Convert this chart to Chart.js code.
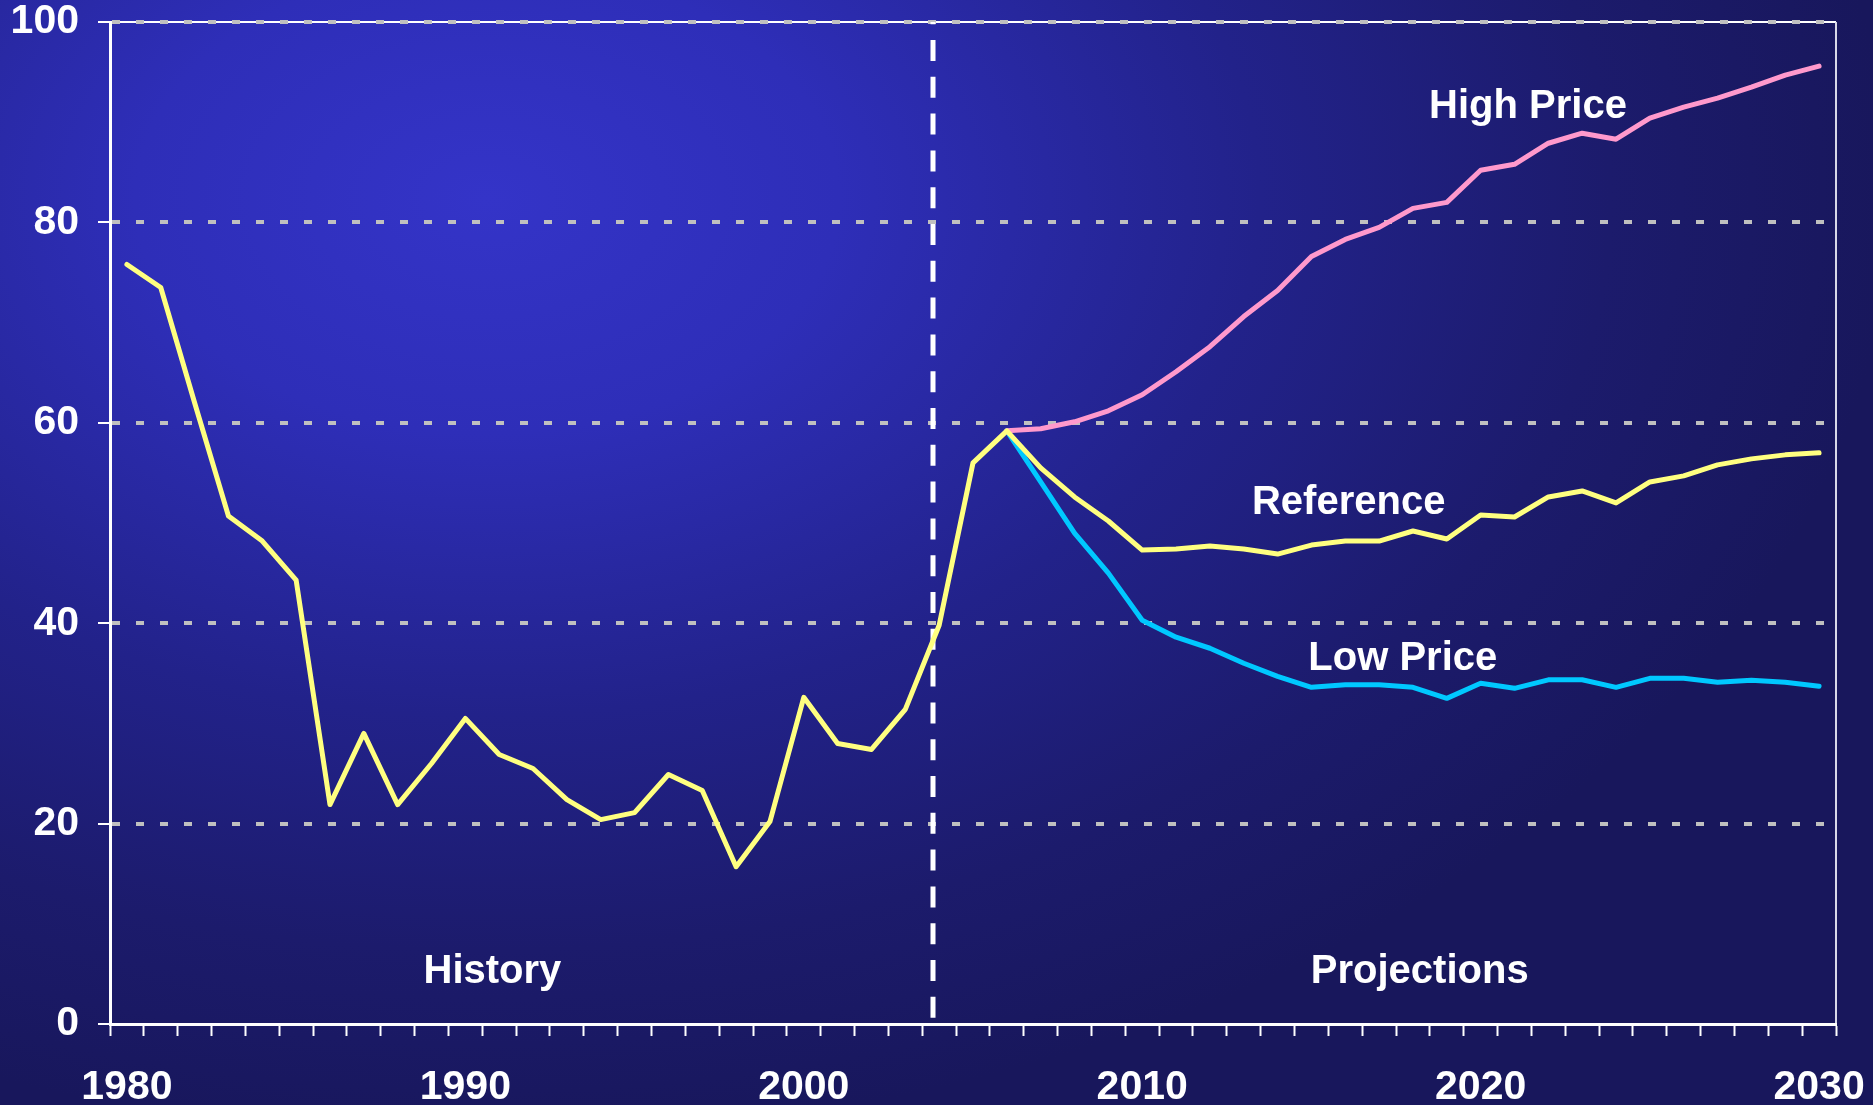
<!DOCTYPE html>
<html>
<head>
<meta charset="utf-8">
<script src="https://cdn.jsdelivr.net/npm/chart.js@4.4.1/dist/chart.umd.min.js"></script>
<style>
  html, body { margin: 0; padding: 0; }
  body {
    width: 1873px; height: 1105px; overflow: hidden;
    background: radial-gradient(ellipse 75% 85% at 26% 18%, #3434c8 0%, #2e2eb8 25%, #22228a 55%, #1c1b6c 80%, #18175c 100%);
  }
  canvas { display: block; }
</style>
</head>
<body>
<canvas id="c" width="1873" height="1105"></canvas>
<script>
// ---- data ----
const years = [];
for (let y = 1980; y <= 2030; y++) years.push(String(y));

// History 1980-2006 followed by the Reference case 2007-2030
const referenceValues = [
  75.8, 73.5, 62.0, 50.7, 48.2, 44.3, 21.9, 29.0, 21.9, 26.0,
  30.5, 26.9, 25.5, 22.4, 20.4, 21.1, 24.9, 23.3, 15.7, 20.2,
  32.6, 28.0, 27.4, 31.4, 39.8, 56.0, 59.2,
  55.5, 52.6, 50.2, 47.3, 47.4, 47.7, 47.4, 46.9, 47.8, 48.2,
  48.2, 49.2, 48.4, 50.8, 50.6, 52.6, 53.2, 52.0, 54.1, 54.7,
  55.8, 56.4, 56.8, 57.0
];
const highPriceValues = [
  null, null, null, null, null, null, null, null, null, null,
  null, null, null, null, null, null, null, null, null, null,
  null, null, null, null, null, null, 59.2,
  59.4, 60.1, 61.2, 62.8, 65.1, 67.6, 70.6, 73.2, 76.6, 78.3,
  79.5, 81.4, 82.0, 85.2, 85.8, 87.9, 88.9, 88.3, 90.4, 91.5,
  92.4, 93.5, 94.7, 95.6
];
const lowPriceValues = [
  null, null, null, null, null, null, null, null, null, null,
  null, null, null, null, null, null, null, null, null, null,
  null, null, null, null, null, null, 59.2,
  54.1, 49.0, 45.0, 40.3, 38.6, 37.5, 36.0, 34.7, 33.6, 33.85,
  33.85, 33.6, 32.5, 34.0, 33.5, 34.35, 34.35, 33.6, 34.5, 34.5,
  34.1, 34.3, 34.1, 33.7
];
const yTickValues = [0, 20, 40, 60, 80, 100];
const xLabelEvery = 10;

// text annotations anchored in data space (category index, value)
const annotationTexts = ['High Price', 'Reference', 'Low Price', 'History', 'Projections'];
const annotationAnchorX = [41.4, 36.1, 37.7, 10.8, 38.2];
const annotationAnchorY = [91.55, 51.95, 36.45, 5.15, 5.15];
const dividerIndex = 23.82; // boundary between history and projections

const FONT = '"Liberation Sans", Arial, sans-serif';

const framePlugin = {
  id: 'frame',
  beforeDraw(chart) {
    const {ctx, chartArea: a} = chart;
    ctx.save();
    ctx.strokeStyle = '#ffffff';
    ctx.lineWidth = 2;
    ctx.beginPath();
    ctx.moveTo(a.left, a.top);
    ctx.lineTo(a.right, a.top);
    ctx.stroke();
    ctx.strokeStyle = '#d8d8e8';
    ctx.beginPath();
    ctx.moveTo(a.right, a.top);
    ctx.lineTo(a.right, a.bottom);
    ctx.stroke();
    ctx.restore();
  },
  beforeDatasetsDraw(chart) {
    const {ctx, chartArea: a, scales} = chart;
    const x = Math.round(scales.x.getPixelForValue(dividerIndex));
    ctx.save();
    ctx.strokeStyle = '#ffffff';
    ctx.lineWidth = 5;
    ctx.setLineDash([21, 15.8]);
    ctx.lineDashOffset = -18;
    ctx.beginPath();
    ctx.moveTo(x, a.top);
    ctx.lineTo(x, a.bottom);
    ctx.stroke();
    ctx.restore();
  },
  afterDatasetsDraw(chart) {
    const {ctx, scales} = chart;
    ctx.save();
    ctx.fillStyle = '#ffffff';
    ctx.font = 'bold 40px ' + FONT;
    ctx.textAlign = 'center';
    ctx.textBaseline = 'middle';
    annotationTexts.forEach((t, i) => {
      const px = scales.x.getPixelForValue(annotationAnchorX[i]);
      const py = scales.y.getPixelForValue(annotationAnchorY[i]);
      ctx.fillText(t, px, py);
    });
    ctx.restore();
  }
};

const lineStyle = {
  borderWidth: 5,
  pointRadius: 0,
  pointHoverRadius: 0,
  tension: 0,
  borderCapStyle: 'round',
  borderJoinStyle: 'round',
  spanGaps: false,
  fill: false
};

new Chart(document.getElementById('c'), {
  type: 'line',
  data: {
    labels: years,
    datasets: [
      Object.assign({ label: 'Low Price', data: lowPriceValues, borderColor: '#00c8ff', order: 3 }, lineStyle),
      Object.assign({ label: 'High Price', data: highPriceValues, borderColor: '#ff99cc', order: 2 }, lineStyle),
      Object.assign({ label: 'Reference', data: referenceValues, borderColor: '#ffff80', order: 1 }, lineStyle)
    ]
  },
  options: {
    responsive: false,
    animation: false,
    devicePixelRatio: 1,
    layout: { padding: { top: 22, right: 37, left: 0, bottom: 0 } },
    plugins: { legend: { display: false }, tooltip: { enabled: false } },
    scales: {
      x: {
        type: 'category',
        offset: true,
        grid: {
          offset: true,
          drawOnChartArea: false,
          drawTicks: true,
          tickLength: 12,
          tickColor: '#ffffff',
          tickWidth: 2,
          color: '#ffffff'
        },
        border: { display: true, color: '#ffffff', width: 3 },
        ticks: {
          autoSkip: false,
          maxRotation: 0,
          minRotation: 0,
          color: '#ffffff',
          padding: 27,
          font: { family: FONT, size: 41, weight: 'bold' },
          callback: function (v, i) {
            const lab = this.getLabelForValue(v);
            return (Number(lab) % xLabelEvery === 0) ? lab : '';
          }
        },
        afterFit(scale) { scale.height = 81; scale.paddingLeft = 0; scale.paddingRight = 0; }
      },
      y: {
        min: 0,
        max: 100,
        afterBuildTicks(scale) { scale.ticks = yTickValues.map(v => ({ value: v })); },
        grid: {
          drawOnChartArea: true,
          drawTicks: true,
          tickLength: 12,
          tickColor: '#ffffff',
          tickWidth: 2,
          tickBorderDash: [],
          lineWidth: 4,
          color: (ctx) => (ctx.tick && ctx.tick.value === 0) ? 'rgba(0,0,0,0)' : '#c0c0c0'
        },
        border: { display: true, color: '#ffffff', width: 3, dash: [8, 16], dashOffset: 0 },
        ticks: {
          color: '#ffffff',
          padding: 19,
          font: { family: FONT, size: 41, weight: 'bold' }
        },
        afterFit(scale) { scale.width = 110; scale.paddingTop = 0; scale.paddingBottom = 0; }
      }
    }
  },
  plugins: [framePlugin]
});
</script>
</body>
</html>
